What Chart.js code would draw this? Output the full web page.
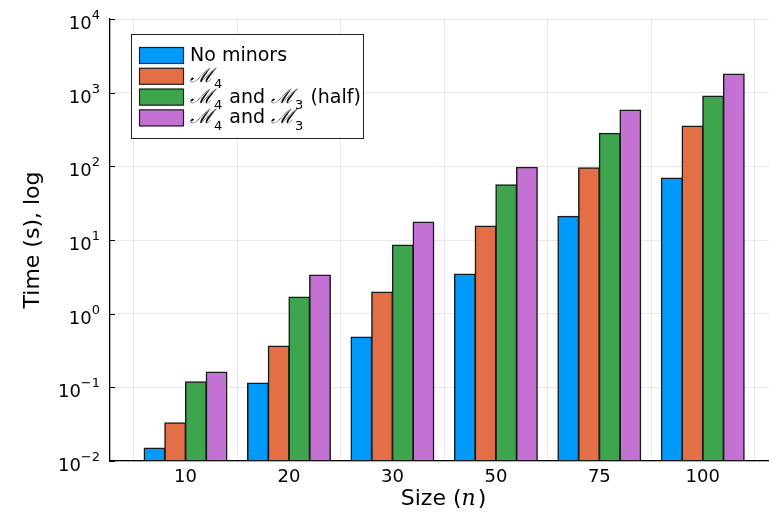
<!DOCTYPE html>
<html>
<head>
<meta charset="utf-8">
<script src="https://cdn.jsdelivr.net/npm/chart.js@4"></script>
<style>
  body { margin: 0; background: #fff; }
  canvas { display: block; }
</style>
</head>
<body>
<canvas id="chart" width="769" height="512"></canvas>
<script>
// sizes n on the x axis
const categories = ['10', '20', '30', '50', '75', '100'];

// timings in seconds (log axis)
const noMinors = [0.015, 0.114, 0.48, 3.44, 21, 69];
const m4 = [0.033, 0.363, 1.96, 15.4, 95, 351];
const m4m3Half = [0.119, 1.68, 8.5, 56, 281, 895];
const m4m3 = [0.161, 3.34, 17.5, 97, 580, 1780];

const seriesLabels = ['No minors', 'ℳ₄', 'ℳ₄ and ℳ₃ (half)', 'ℳ₄ and ℳ₃'];
const seriesColors = ['#009AFA', '#E36F47', '#3EA44E', '#C371D2'];
const yTicks = [1e-2, 1e-1, 1e0, 1e1, 1e2, 1e3, 1e4];

const FONT = "'DejaVu Sans', sans-serif";
const subDigits = { '₀': '0', '₁': '1', '₂': '2', '₃': '3', '₄': '4', '₅': '5', '₆': '6', '₇': '7', '₈': '8', '₉': '9' };

// draw a label, lowering subscript digits like math text
function drawMathText(ctx, text, x, y, size) {
  let cx = x;
  for (const ch of text) {
    if (subDigits[ch]) {
      ctx.font = Math.round(size * 0.7) + 'px ' + FONT;
      ctx.fillText(subDigits[ch], cx + 1, y + size * 0.33);
      cx += ctx.measureText(subDigits[ch]).width + 2;
    } else if (ch === 'ℳ') {
      ctx.font = "italic " + (size + 1) + "px 'DejaVu Serif', serif";
      ctx.fillText(ch, cx, y);
      cx += ctx.measureText(ch).width;
    } else {
      ctx.font = size + 'px ' + FONT;
      ctx.fillText(ch, cx, y);
      cx += ctx.measureText(ch).width;
    }
  }
}

const series = [noMinors, m4, m4m3Half, m4m3];
const datasets = series.map((vals, i) => ({
  label: seriesLabels[i],
  data: vals.map((v, k) => ({ x: k + 1, y: v })),
  backgroundColor: seriesColors[i],
  borderColor: '#1a1a1a',
  borderWidth: 1.5,
  borderSkipped: false,
  inflateAmount: 0.6,
  categoryPercentage: 0.8,
  barPercentage: 1.0
}));

const decorPlugin = {
  id: 'decor',
  afterDraw(chart) {
    const ctx = chart.ctx;
    const area = chart.chartArea;
    const ys = chart.scales.y;
    ctx.save();
    ctx.strokeStyle = '#000';
    ctx.lineWidth = 1;
    ctx.fillStyle = '#000';
    yTicks.forEach(t => {
      const py = Math.round(ys.getPixelForValue(t)) + 0.5;
      ctx.beginPath();
      ctx.moveTo(area.left, py);
      ctx.lineTo(area.left + 5, py);
      ctx.stroke();
      // tick label 10^e
      const e = String(Math.round(Math.log10(t))).replace('-', '−');
      ctx.font = '13px ' + FONT;
      const we = ctx.measureText(e).width;
      ctx.textAlign = 'right';
      ctx.textBaseline = 'alphabetic';
      ctx.fillText(e, 100, py - 1);
      ctx.font = '18px ' + FONT;
      ctx.fillText('10', 100 - we, py + 9);
    });

    // legend
    const lx = 131, ly = 34, lw = 232, lh = 104;
    ctx.fillStyle = '#fff';
    ctx.fillRect(lx, ly, lw, lh);
    ctx.strokeStyle = '#222';
    ctx.lineWidth = 1;
    ctx.strokeRect(lx + 0.5, ly + 0.5, lw, lh);
    ctx.textBaseline = 'alphabetic';
    ctx.textAlign = 'left';
    chart.data.datasets.forEach((ds, i) => {
      const cy = 55 + i * 20.8;
      ctx.fillStyle = ds.backgroundColor;
      ctx.fillRect(139, cy - 8, 44, 17);
      ctx.strokeStyle = '#222';
      ctx.lineWidth = 1.2;
      ctx.strokeRect(139.5, cy - 7.5, 44, 16);
      ctx.fillStyle = '#000';
      drawMathText(ctx, ds.label, 190, cy + 6, 19);
    });

    // x title: Size (n)
    const cx = (area.left + area.right) / 2 + 4;
    const ty = 499;
    ctx.font = '22px ' + FONT;
    const a = 'Size (', b = 'n', c = ')';
    const wa = ctx.measureText(a).width;
    const wc = ctx.measureText(c).width;
    ctx.font = "italic 22px 'DejaVu Serif', serif";
    const wb = ctx.measureText(b).width + 2;
    const x0 = cx - (wa + wb + wc) / 2;
    ctx.fillStyle = '#000';
    ctx.textBaseline = 'middle';
    ctx.font = '22px ' + FONT;
    ctx.fillText(a, x0, ty);
    ctx.font = "italic 22px 'DejaVu Serif', serif";
    ctx.fillText(b, x0 + wa, ty);
    ctx.font = '22px ' + FONT;
    ctx.fillText(c, x0 + wa + wb, ty);
    ctx.restore();
  }
};

new Chart(document.getElementById('chart'), {
  type: 'bar',
  data: { datasets },
  plugins: [decorPlugin],
  options: {
    responsive: false,
    animation: false,
    devicePixelRatio: 1,
    layout: { padding: { top: 19, right: 0, left: 0, bottom: 0 } },
    plugins: {
      legend: { display: false },
      tooltip: { enabled: false }
    },
    scales: {
      x: {
        type: 'linear',
        min: 0.27,
        max: 6.64,
        offset: false,
        afterBuildTicks(scale) {
          scale.ticks = categories.map((c, i) => ({ value: i + 1 }));
        },
        afterFit(scale) { scale.height = 51; },
        ticks: {
          color: '#000',
          font: { family: FONT, size: 18 },
          padding: 6,
          callback: v => categories[v - 1]
        },
        grid: { color: 'rgba(0,0,0,0.09)', drawTicks: false },
        border: { display: true, color: '#000', width: 1.3 }
      },
      y: {
        type: 'logarithmic',
        min: 1e-2,
        max: 1e4,
        afterBuildTicks(scale) {
          scale.ticks = yTicks.map(v => ({ value: v }));
        },
        afterFit(scale) { scale.width = 110; },
        ticks: { display: false },
        grid: { color: 'rgba(0,0,0,0.09)', drawTicks: false },
        border: { display: true, color: '#000', width: 1.3 },
        title: {
          display: true,
          text: 'Time (s), log',
          color: '#000',
          font: { family: FONT, size: 22 },
          padding: { top: 20, bottom: 0 }
        }
      }
    }
  }
});
</script>
</body>
</html>
